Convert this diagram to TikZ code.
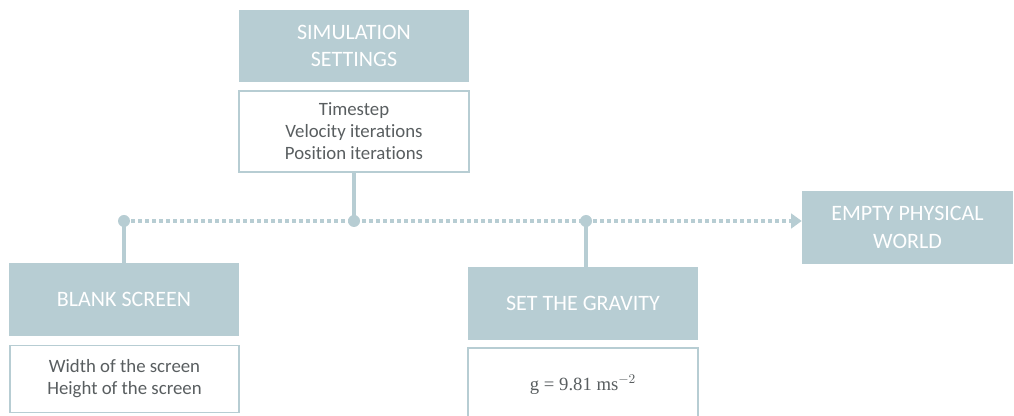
\documentclass[tikz,border=0pt]{standalone}
\usepackage{fontspec}
\setmainfont{Carlito}[Ligatures=NoCommon]
\newfontfamily\formulafont{Liberation Serif}
\usetikzlibrary{arrows.meta,calc}
\definecolor{boxfill}{RGB}{183,205,211}
\definecolor{bodytext}{RGB}{89,94,96}
\tikzset{
  head/.style={fill=boxfill, draw=none, text=white, align=center,
    font=\fontsize{16.5}{20.5}\selectfont, inner sep=0pt},
  detail/.style={fill=white, draw=boxfill, line width=1.1pt, text=bodytext, align=center,
    font=\fontsize{14.1}{16.5}\selectfont, inner sep=0pt},
  stem/.style={draw=boxfill, line width=3pt},
  trail/.style={draw=boxfill, line width=3pt, dash pattern=on 3pt off 2.25pt},
  knot/.style={circle, fill=boxfill, minimum size=9pt, inner sep=0pt}
}
\begin{document}
\begin{tikzpicture}[x=0.75pt, y=-0.75pt]
\useasboundingbox (0,0) rectangle (1014,416);

% top block: simulation settings
\node[head, minimum width=172.5pt, minimum height=54pt] (simhead) at (354,46) {SIMULATION\\SETTINGS};
\node[detail, minimum width=172.5pt, minimum height=60.75pt] (simbody) at (354,131.5)
  {Timestep\\Velocity iterations\\Position iterations};

% lower blocks
\node[head, minimum width=172.5pt, minimum height=54.75pt] (blankhead) at (124,299.5) {BLANK SCREEN};
\node[detail, minimum width=171.75pt, minimum height=50.25pt] (blankbody) at (124.5,379)
  {Width of the screen\\Height of the screen};

\node[head, minimum width=172.5pt, minimum height=54.75pt] (gravhead) at (583,303.5) {SET THE GRAVITY};
\node[detail, minimum width=172.5pt, minimum height=61.5pt] (gravbody) at (583,389) {};
\node[text=bodytext, font=\formulafont\fontsize{14}{16}\selectfont, inner sep=0pt] (gravtext) at (583,385)
  {g = 9.81 ms$^{-2}$};

% result
\node[head, minimum width=158.25pt, minimum height=54.75pt] (worldhead) at (907.5,227.5) {EMPTY PHYSICAL\\WORLD};

% timeline knots
\coordinate (k1) at (124,221);
\coordinate (k2) at (354,221);
\coordinate (k3) at (586,221);

\draw[trail, -{Triangle[width=11pt,length=8pt]}] (k1) -- (k1 -| worldhead.west);

\draw[stem] (k1) -- (k1 |- blankhead.north);
\draw[stem] (k2) -- (k2 |- simbody.south);
\draw[stem] (k3) -- (k3 |- gravhead.north);

\node[knot] (d1) at (k1) {};
\node[knot] (d2) at (k2) {};
\node[knot] (d3) at (k3) {};
\end{tikzpicture}
\end{document}
